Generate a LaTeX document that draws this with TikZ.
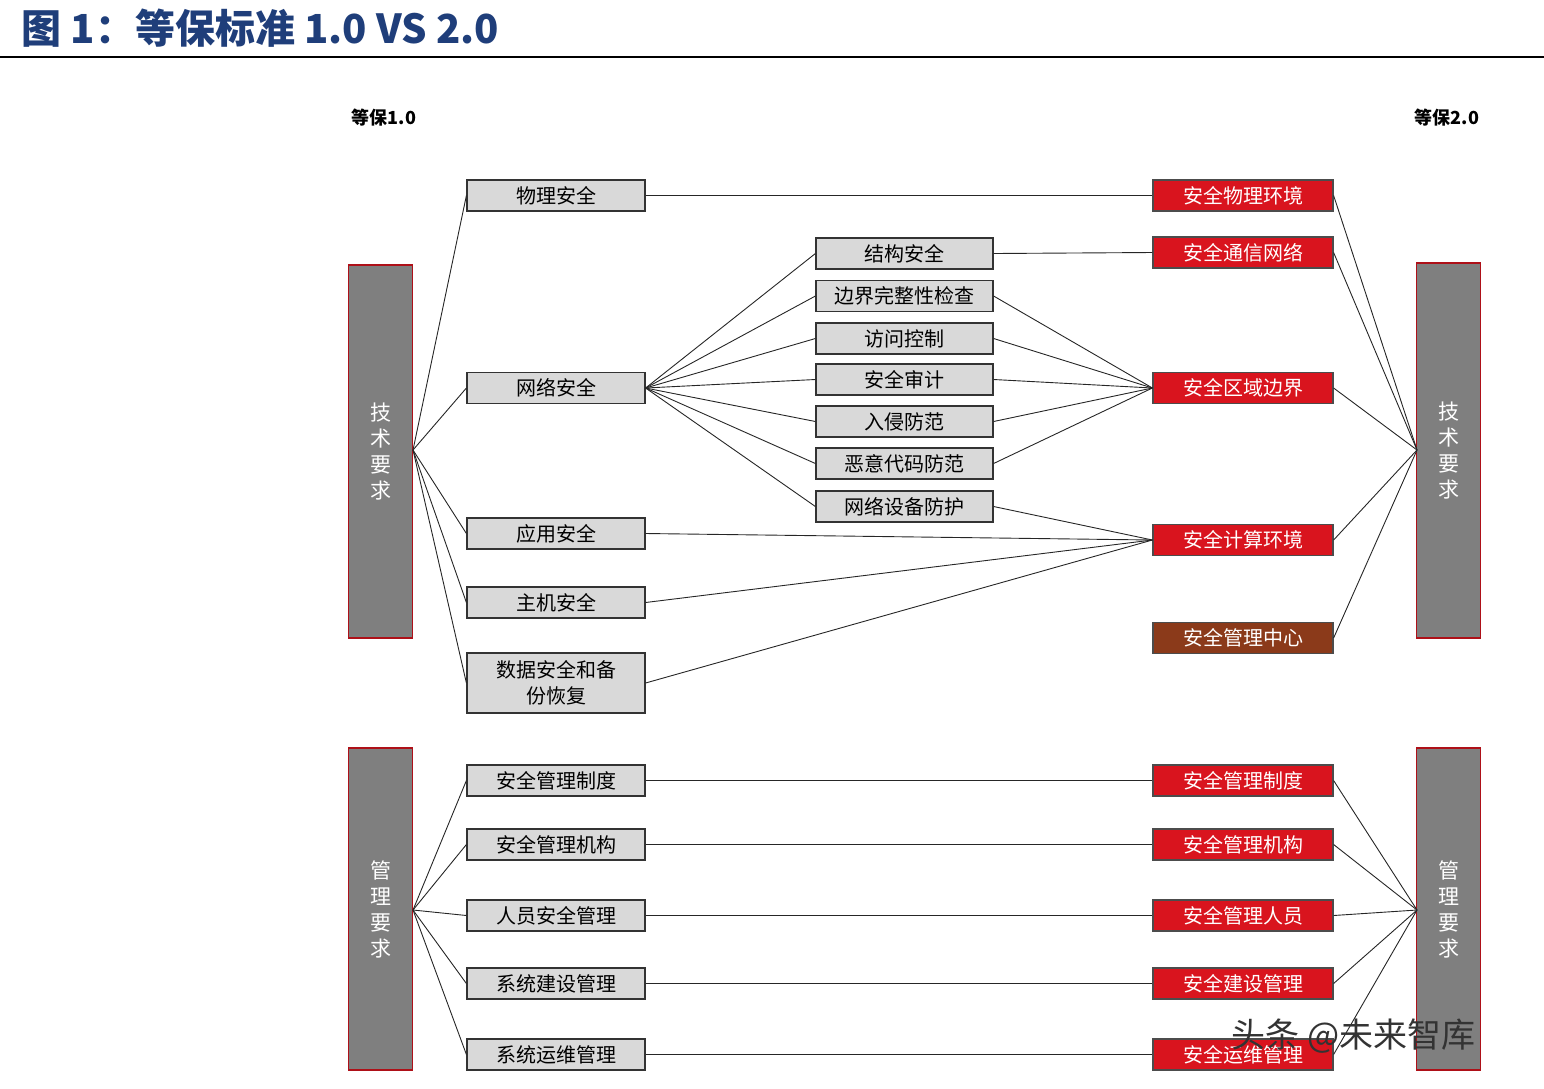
\documentclass[tikz,border=0pt]{standalone}
\usepackage{fontspec}
\setmainfont{Noto Sans CJK SC}
\definecolor{tblue}{HTML}{1F3E7A}
\definecolor{boxg}{HTML}{D9D9D9}
\definecolor{barg}{HTML}{7F7F7F}
\definecolor{redb}{HTML}{D9141E}
\definecolor{brownb}{HTML}{8B3A1A}
\begin{document}
\begin{tikzpicture}[x=1pt,y=-1pt,
 lbox/.style={draw=black!80,line width=1.2pt,fill=boxg,minimum width=178pt,minimum height=31pt,inner sep=0pt,font=\fontsize{20}{22}\selectfont,align=center},
 rbox/.style={draw=black!70,line width=1.2pt,fill=redb,text=white,minimum width=180pt,minimum height=31pt,inner sep=0pt,font=\fontsize{20}{22}\selectfont},
 bar/.style={draw=redb!80!black,line width=1.2pt,fill=barg,text=white,minimum width=64pt,inner sep=0pt,font=\fontsize{21}{26}\selectfont,align=center},
 ln/.style={line width=0.9pt,black!85}]
\useasboundingbox (0,0) rectangle (1544,1088);
\node[anchor=west,text=tblue,font=\fontsize{40}{44}\selectfont\bfseries] (title) at (18,28) {图 1：等保标准 1.0 VS 2.0};
\draw[line width=2pt] (0,57) -- (1544,57);
\node[font=\fontsize{18}{20}\selectfont\bfseries] (v1) at (384,118) {等保1.0};
\node[font=\fontsize{18}{20}\selectfont\bfseries] (v2) at (1447,118) {等保2.0};
% bars
\node[bar,minimum height=373pt] (LT) at (380.5,451.5) {技\\术\\要\\求};
\node[bar,minimum height=322pt] (LM) at (380.5,909) {管\\理\\要\\求};
\node[bar,minimum height=375pt] (RT) at (1448.5,450.5) {技\\术\\要\\求};
\node[bar,minimum height=322pt] (RM) at (1448.5,909) {管\\理\\要\\求};
% left boxes
\node[lbox] (a1) at (556,195.5) {物理安全};
\node[lbox] (a2) at (556,388) {网络安全};
\node[lbox] (a3) at (556,533.5) {应用安全};
\node[lbox] (a4) at (556,602.5) {主机安全};
\node[lbox,minimum height=60pt,font=\fontsize{20}{26}\selectfont] (a5) at (556,683) {数据安全和备\\份恢复};
\node[lbox] (m1) at (556,780.5) {安全管理制度};
\node[lbox] (m2) at (556,844.5) {安全管理机构};
\node[lbox] (m3) at (556,915.5) {人员安全管理};
\node[lbox] (m4) at (556,983.5) {系统建设管理};
\node[lbox] (m5) at (556,1054.5) {系统运维管理};
% middle
\node[lbox,minimum width=177pt] (b1) at (904.5,253.5) {结构安全};
\node[lbox,minimum width=177pt] (b2) at (904.5,296) {边界完整性检查};
\node[lbox,minimum width=177pt] (b3) at (904.5,338.5) {访问控制};
\node[lbox,minimum width=177pt] (b4) at (904.5,379.5) {安全审计};
\node[lbox,minimum width=177pt] (b5) at (904.5,421.5) {入侵防范};
\node[lbox,minimum width=177pt] (b6) at (904.5,463.5) {恶意代码防范};
\node[lbox,minimum width=177pt] (b7) at (904.5,506.5) {网络设备防护};
% right
\node[rbox] (r1) at (1243,195.5) {安全物理环境};
\node[rbox] (r2) at (1243,252.5) {安全通信网络};
\node[rbox] (r3) at (1243,388) {安全区域边界};
\node[rbox] (r4) at (1243,540) {安全计算环境};
\node[rbox,fill=brownb] (r5) at (1243,638) {安全管理中心};
\node[rbox] (n1) at (1243,780.5) {安全管理制度};
\node[rbox] (n2) at (1243,844.5) {安全管理机构};
\node[rbox] (n3) at (1243,915.5) {安全管理人员};
\node[rbox] (n4) at (1243,983.5) {安全建设管理};
\node[rbox] (n5) at (1243,1054.5) {安全运维管理};
\coordinate (LTc) at (413,450);
\coordinate (LMc) at (413,910);
\coordinate (RTc) at (1417,450);
\coordinate (RMc) at (1417,910);
\foreach \n in {a1,a2,a3,a4,a5} \draw[ln] (LTc) -- (\n.west);
\foreach \n in {m1,m2,m3,m4,m5} \draw[ln] (LMc) -- (\n.west);
\foreach \n in {r1,r2,r3,r4,r5} \draw[ln] (RTc) -- (\n.east);
\foreach \n in {n1,n2,n3,n4,n5} \draw[ln] (RMc) -- (\n.east);
\foreach \i in {1,...,5} \draw[ln] (m\i.east) -- (n\i.west);
\foreach \n in {b1,b2,b3,b4,b5,b6,b7} \draw[ln] (a2.east) -- (\n.west);
\foreach \n in {b2,b3,b4,b5,b6} \draw[ln] (\n.east) -- (r3.west);
\draw[ln] (a1.east) -- (r1.west);
\draw[ln] (b1.east) -- (r2.west);
\foreach \n in {b7,a3,a4,a5} \draw[ln] (\n.east) -- (r4.west);
\node[anchor=west,text=black!80,font=\fontsize{34}{36}\selectfont] (wm) at (1228,1036) {头条 @未来智库};
\end{tikzpicture}
\end{document}
